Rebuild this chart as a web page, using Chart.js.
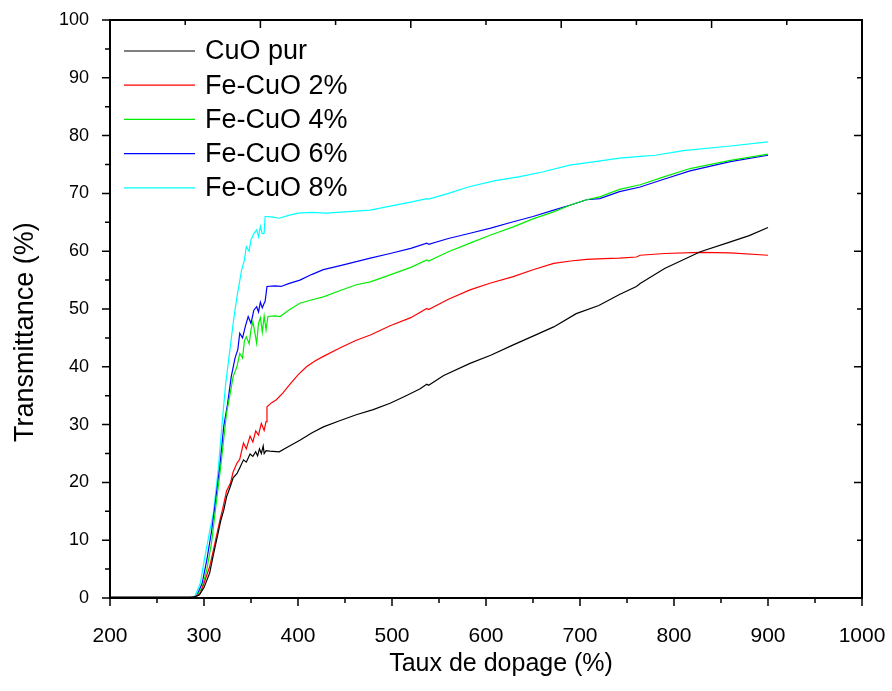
<!DOCTYPE html>
<html lang="fr">
<head>
    <meta charset="UTF-8">
    <title>Transmittance - Fe-CuO</title>
    <script src="https://cdn.jsdelivr.net/npm/chart.js@4.4.1/dist/chart.umd.min.js"></script>
    <style>
        body { margin: 0; background: #fff; }
        canvas { display: block; }
    </style>
</head>
<body>
    <canvas id="myChart" width="892" height="691"></canvas>

    <script>
        // tick labels / titles
        const xTicks = [200, 300, 400, 500, 600, 700, 800, 900, 1000];
        const yTicks = [0, 10, 20, 30, 40, 50, 60, 70, 80, 90, 100];
        const xTitle = 'Taux de dopage (%)';
        const yTitle = 'Transmittance (%)';
        const seriesNames = ['CuO pur', 'Fe-CuO 2%', 'Fe-CuO 4%', 'Fe-CuO 6%', 'Fe-CuO 8%'];
        const seriesColors = ['#000000', '#ff0000', '#00ee00', '#0000ff', '#00ffff'];

        // values
        const cuoX = [200, 250, 288, 295, 300, 306, 310, 314, 318, 321, 324, 328, 331, 335, 338, 342, 345, 349, 352, 355, 357, 359, 361, 363, 364, 366, 370, 380, 390, 402, 415, 427, 445, 462, 480, 498, 515, 530, 537, 539, 555, 583, 605, 629, 650, 672, 696, 720, 742, 760, 764, 790, 828, 856, 880, 900];
        const cuoY = [0.1, 0.1, 0.1, 0.5, 1.8, 4.3, 7.5, 10.5, 13.5, 15.2, 17.5, 19.3, 20.8, 21.5, 22.5, 23.9, 23.5, 24.9, 24.5, 25.3, 24.6, 25.8, 25.0, 26.3, 25.0, 25.5, 25.4, 25.3, 26.2, 27.3, 28.6, 29.6, 30.7, 31.7, 32.6, 33.7, 35.0, 36.2, 37.0, 36.8, 38.5, 40.6, 42.0, 43.8, 45.3, 46.9, 49.2, 50.6, 52.5, 53.9, 54.4, 57.0, 59.9, 61.4, 62.7, 64.1];

        const fe2X = [200, 250, 290, 296, 300, 306, 311, 317, 320, 324, 328, 331, 335, 338, 342, 345, 349, 352, 355, 358, 361, 364, 366, 367, 372, 377, 384, 392, 400, 409, 418, 427, 445, 462, 477, 498, 520, 537, 539, 560, 583, 605, 629, 650, 672, 690, 707, 725, 742, 760, 764, 790, 828, 860, 900];
        const fe2Y = [0.1, 0.1, 0.1, 0.8, 2.5, 5.4, 9.0, 13.5, 15.5, 18.5, 19.8, 21.8, 23.3, 24.0, 26.8, 25.8, 28.0, 27.0, 28.9, 28.2, 30.2, 29.0, 30.5, 33.1, 33.8, 34.3, 35.5, 37.1, 38.6, 40.0, 41.0, 41.8, 43.3, 44.6, 45.5, 47.1, 48.5, 50.1, 49.9, 51.7, 53.3, 54.5, 55.6, 56.8, 57.9, 58.3, 58.6, 58.7, 58.8, 59.0, 59.3, 59.6, 59.8, 59.7, 59.3];

        const fe4X = [200, 250, 286, 292, 298, 303, 308, 313, 318, 321, 324, 328, 331, 335, 338, 341, 343, 345, 348, 350, 352, 354, 356, 358, 360, 362, 364, 366, 368, 375, 381, 390, 402, 415, 427, 445, 462, 477, 498, 520, 537, 539, 560, 583, 605, 629, 650, 672, 690, 707, 721, 742, 764, 790, 817, 860, 900];
        const fe4Y = [0.1, 0.1, 0.1, 0.2, 1.8, 4.9, 9.5, 16.4, 23.0, 27.5, 32.0, 35.5, 38.3, 40.0, 42.3, 41.5, 44.5, 45.2, 44.0, 46.4, 47.8, 46.0, 44.1, 47.5, 48.5, 46.0, 48.8, 46.4, 48.7, 48.8, 48.7, 49.8, 51.0, 51.6, 52.1, 53.2, 54.2, 54.7, 55.9, 57.2, 58.5, 58.3, 59.9, 61.4, 62.8, 64.2, 65.6, 66.8, 68.0, 68.9, 69.4, 70.7, 71.5, 72.9, 74.3, 75.7, 76.8];

        const fe6X = [200, 250, 285, 292, 298, 303, 308, 312, 317, 321, 325, 329, 333, 336, 338, 341, 344, 347, 350, 353, 356, 358, 360, 362, 364, 365, 367, 375, 382, 390, 402, 415, 427, 445, 462, 477, 498, 520, 537, 539, 560, 583, 605, 629, 650, 672, 690, 707, 721, 742, 764, 790, 817, 860, 900];
        const fe6Y = [0.1, 0.1, 0.1, 0.3, 2.5, 6.6, 11.5, 16.4, 23.0, 29.7, 33.5, 38.3, 41.5, 43.0, 45.8, 45.0, 47.0, 48.7, 47.5, 49.8, 50.4, 49.5, 51.2, 50.2, 51.0, 51.3, 53.9, 54.0, 53.9, 54.4, 55.0, 56.0, 56.8, 57.5, 58.2, 58.8, 59.6, 60.5, 61.4, 61.2, 62.2, 63.1, 64.0, 65.1, 66.0, 67.1, 68.0, 68.9, 69.1, 70.3, 71.1, 72.5, 73.9, 75.5, 76.6];

        const fe8X = [200, 250, 284, 290, 296, 301, 306, 310, 315, 319, 323, 328, 331, 333, 336, 340, 343, 345, 348, 350, 353, 356, 358, 360, 362, 364, 365, 367, 373, 380, 390, 400, 415, 430, 450, 477, 498, 520, 537, 539, 560, 583, 610, 636, 660, 689, 720, 742, 764, 780, 810, 860, 900];
        const fe8Y = [0.1, 0.1, 0.1, 0.2, 2.5, 7.2, 11.5, 14.7, 22.0, 29.7, 37.0, 43.5, 47.5, 49.8, 53.0, 56.7, 58.5, 60.8, 60.0, 62.0, 63.0, 63.7, 62.5, 64.3, 63.0, 63.1, 66.0, 66.0, 65.9, 65.7, 66.2, 66.6, 66.7, 66.6, 66.8, 67.1, 67.8, 68.5, 69.1, 69.0, 70.0, 71.2, 72.2, 72.9, 73.7, 74.9, 75.6, 76.1, 76.4, 76.6, 77.4, 78.2, 78.9];

        const allX = [cuoX, fe2X, fe4X, fe6X, fe8X];
        const allY = [cuoY, fe2Y, fe4Y, fe6Y, fe8Y];

        const FONT = "'Liberation Sans', Arial, sans-serif";

        // frame, ticks (outward bottom/left, inward top/right), axis titles and in-plot legend
        const framePlugin = {
            id: 'frame',
            afterDraw(chart) {
                const ctx = chart.ctx;
                const a = chart.chartArea;
                const xs = chart.scales.x, ys = chart.scales.y;
                ctx.save();
                ctx.strokeStyle = '#000';
                ctx.lineWidth = 2;
                ctx.strokeRect(a.left, a.top, a.right - a.left, a.bottom - a.top);

                ctx.lineWidth = 1.5;
                ctx.beginPath();
                for (let v = 200; v <= 1000; v += 50) {
                    const px = xs.getPixelForValue(v);
                    const len = v % 100 === 0 ? 8 : 5;
                    ctx.moveTo(px, a.bottom);
                    ctx.lineTo(px, a.bottom + len);
                }
                for (let v = 0; v <= 100; v += 5) {
                    const py = ys.getPixelForValue(v);
                    const len = v % 10 === 0 ? 8 : 5;
                    ctx.moveTo(a.left, py);
                    ctx.lineTo(a.left - len, py);
                }
                for (let i = 1; i < 10; i++) {
                    const len = i % 2 === 0 ? 8 : 5;
                    const px = xs.getPixelForValue(200 + i * 80);
                    ctx.moveTo(px, a.top);
                    ctx.lineTo(px, a.top + len);
                    const py = ys.getPixelForValue(i * 10);
                    ctx.moveTo(a.right, py);
                    ctx.lineTo(a.right - len, py);
                }
                ctx.stroke();

                // axis titles (slightly off-centre, as in the original)
                ctx.fillStyle = '#000';
                ctx.textAlign = 'center';
                ctx.textBaseline = 'middle';
                ctx.font = '25px ' + FONT;
                ctx.fillText(xTitle, a.left + (a.right - a.left) * 0.52, a.bottom + 66);
                ctx.save();
                ctx.translate(26, a.top + (a.bottom - a.top) * 0.54);
                ctx.rotate(-Math.PI / 2);
                ctx.font = '27px ' + FONT;
                ctx.fillText(yTitle, 0, 0);
                ctx.restore();

                // legend
                ctx.font = '27px ' + FONT;
                ctx.textAlign = 'left';
                chart.data.datasets.forEach((ds, i) => {
                    const y = a.top + 31 + i * 34.2;
                    ctx.strokeStyle = ds.borderColor;
                    ctx.lineWidth = 1.2;
                    ctx.beginPath();
                    ctx.moveTo(a.left + 14, y);
                    ctx.lineTo(a.left + 85, y);
                    ctx.stroke();
                    ctx.fillText(ds.label, a.left + 95, y + 1);
                });
                ctx.restore();
            }
        };

        const ctx = document.getElementById('myChart').getContext('2d');
        const myChart = new Chart(ctx, {
            type: 'line',
            data: {
                datasets: seriesNames.map((name, i) => ({
                    label: name,
                    data: allX[i].map((x, j) => ({ x: x, y: allY[i][j] })),
                    borderColor: seriesColors[i],
                    borderWidth: 1.2,
                    pointRadius: 0,
                    tension: 0,
                    fill: false
                }))
            },
            options: {
                responsive: false,
                animation: false,
                layout: { padding: { top: 20, right: 30, left: 0, bottom: 0 } },
                plugins: {
                    legend: { display: false },
                    tooltip: { enabled: false }
                },
                scales: {
                    x: {
                        type: 'linear',
                        min: 200,
                        max: 1000,
                        afterFit: s => { s.height = 93; s.paddingLeft = 0; s.paddingRight = 0; },
                        afterBuildTicks: s => { s.ticks = xTicks.map(v => ({ value: v })); },
                        grid: { display: false },
                        border: { display: false },
                        ticks: { autoSkip: false, maxRotation: 0, padding: 18, color: '#000', font: { size: 21, family: FONT }, callback: v => String(v) },
                        title: { display: false }
                    },
                    y: {
                        type: 'linear',
                        min: 0,
                        max: 100,
                        afterFit: s => { s.width = 110; s.paddingTop = 0; s.paddingBottom = 0; },
                        afterBuildTicks: s => { s.ticks = yTicks.map(v => ({ value: v })); },
                        grid: { display: false },
                        border: { display: false },
                        ticks: { autoSkip: false, padding: 13, color: '#000', font: { size: 18, family: FONT }, callback: v => String(v) },
                        title: { display: false }
                    }
                }
            },
            plugins: [framePlugin]
        });
    </script>
</body>
</html>
